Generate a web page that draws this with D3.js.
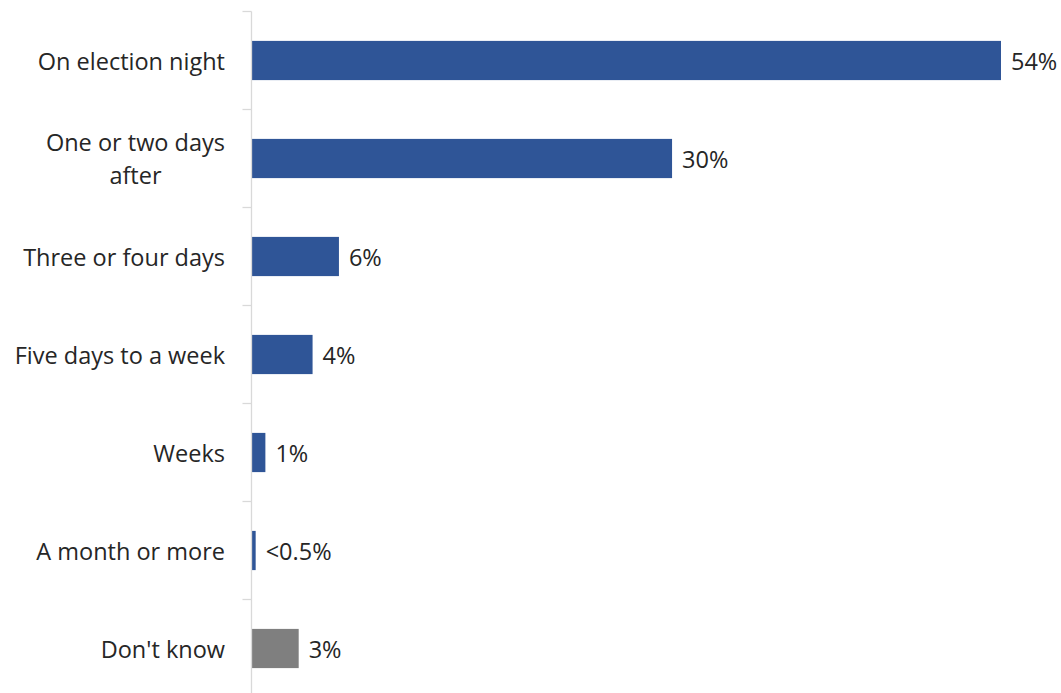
<!DOCTYPE html>
<html><head><meta charset="utf-8">
<script src="https://cdn.jsdelivr.net/npm/d3@7"></script>
<style>body{margin:0;background:#fff}svg{display:block}</style>
</head><body>
<svg id="c" width="1061" height="693"></svg>
<script>
const categories = ["On election night", "One or two days after", "Three or four days", "Five days to a week", "Weeks", "A month or more", "Don't know"];
const categoryLines = [["On election night"], ["One or two days", "after"], ["Three or four days"], ["Five days to a week"], ["Weeks"], ["A month or more"], ["Don't know"]];
const values = [54, 30.3, 6.3, 4.4, 1.0, 0.3, 3.4];
const valueLabels = ["54%", "30%", "6%", "4%", "1%", "<0.5%", "3%"];
const barColors = ["#2F5597", "#2F5597", "#2F5597", "#2F5597", "#2F5597", "#2F5597", "#7F7F7F"];

const svg = d3.select("#c");
const font = "'Open Sans', sans-serif";
const fs = 23.5;
const x0 = 251.5;
const x = d3.scaleLinear().domain([0, 54]).range([x0, 1001]);
const y = d3.scaleBand().domain(categories).range([11.5, 697.5]).paddingInner(0.6).paddingOuter(0.3);
const yb = d3.scaleBand().domain(categories).range([11.5, 697.5]);

// bars
svg.selectAll("rect.bar").data(categories).join("rect")
  .attr("class", "bar")
  .attr("x", x0)
  .attr("y", d => y(d))
  .attr("width", (d, i) => x(values[i]) - x0)
  .attr("height", y.bandwidth())
  .attr("fill", (d, i) => barColors[i]);

// axis
const axis = d3.axisLeft(yb).tickSize(9).tickFormat("");
const g = svg.append("g").attr("transform", `translate(${x0},0)`).call(axis);
g.select(".domain").attr("stroke", "#D9D9D9").attr("stroke-width", 1.3).attr("d", `M0,11.5V693`);
g.selectAll(".tick line").attr("stroke", "#D9D9D9").attr("stroke-width", 1.3)
  .attr("transform", (d) => `translate(0,${-yb.bandwidth()/2})`);

// category labels
const labelRight = 225;
categories.forEach((c, i) => {
  const lines = categoryLines[i];
  const cy = yb(c) + yb.bandwidth() / 2;
  const lh = 33;
  const t = svg.append("text").attr("font-family", font).attr("font-size", fs).attr("fill", "#262626");
  if (lines.length === 1) {
    t.attr("x", labelRight).attr("y", cy).attr("text-anchor", "end").attr("dominant-baseline", "central").text(lines[0]);
  } else {
    const tmp = svg.append("text").attr("font-family", font).attr("font-size", fs).text(lines[0]);
    const w = tmp.node().getComputedTextLength(); tmp.remove();
    const cx = labelRight - w / 2;
    lines.forEach((l, k) => {
      t.append("tspan").attr("x", cx).attr("y", cy + (k - (lines.length - 1) / 2) * lh)
        .attr("text-anchor", "middle").attr("dominant-baseline", "central").text(l);
    });
  }
});

// value labels
svg.selectAll("text.val").data(categories).join("text")
  .attr("class", "val")
  .attr("x", (d, i) => x(values[i]) + 10)
  .attr("y", d => yb(d) + yb.bandwidth() / 2)
  .attr("dominant-baseline", "central")
  .attr("font-family", font).attr("font-size", fs).attr("fill", "#262626")
  .text((d, i) => valueLabels[i]);
</script>
</body></html>
